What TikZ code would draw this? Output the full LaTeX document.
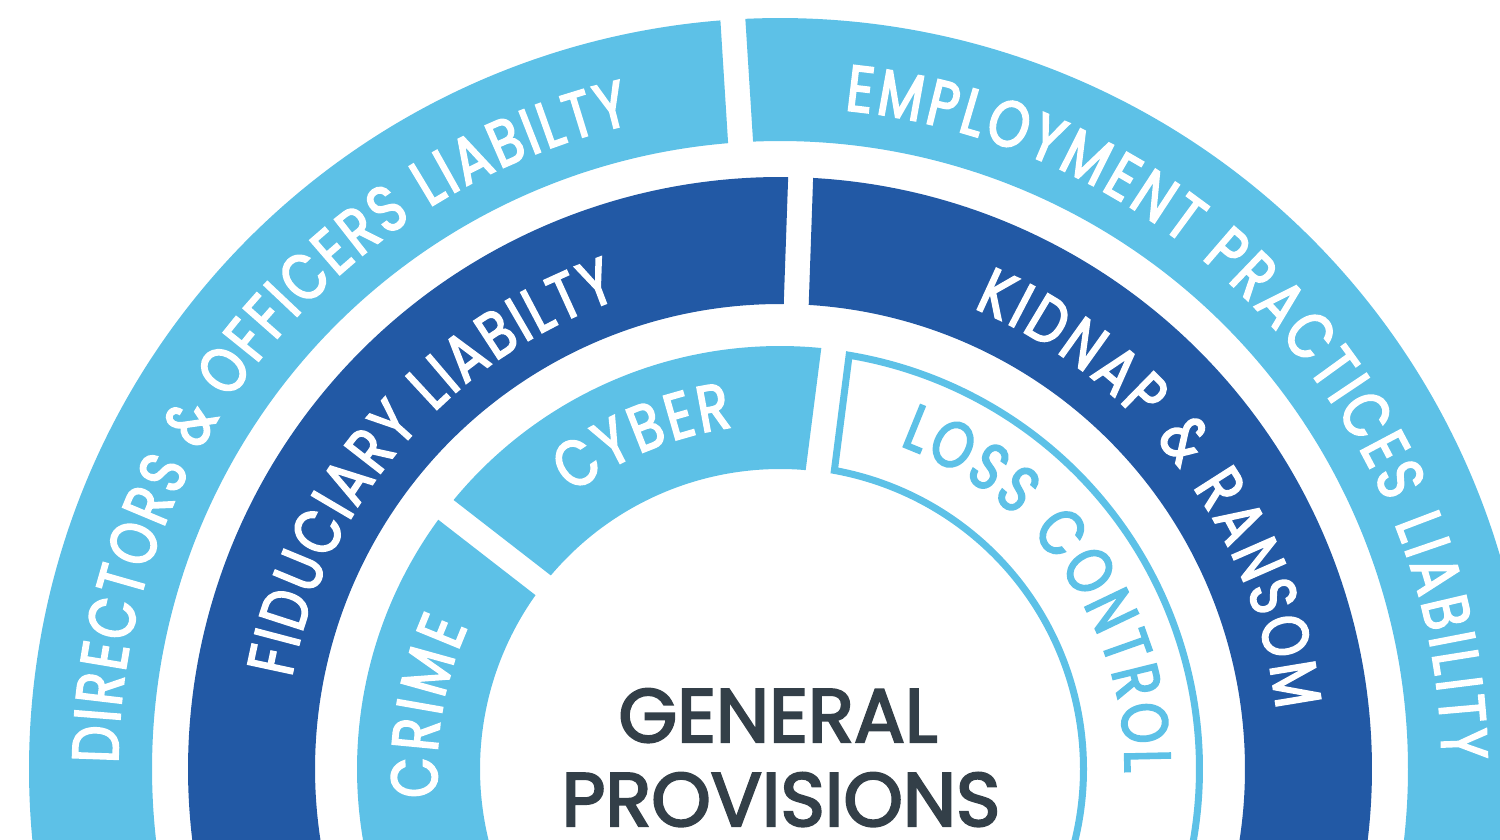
\documentclass[tikz,border=0pt]{standalone}
\usepackage{fontspec}
\newfontfamily\ringfam[FakeStretch=0.8, FakeBold=2.8]{Poppins}
\newfontfamily\titlefam[FakeBold=3]{Poppins}
\definecolor{skyband}{HTML}{5DC1E7}
\definecolor{navyband}{HTML}{2259A5}
\definecolor{slatetext}{HTML}{333F48}
\newcommand\ringlabel{\ringfam\fontsize{18.5pt}{20pt}\selectfont}

\tikzset{
  ringchar/.style={anchor=base, inner sep=0pt, outer sep=0pt, font=\ringlabel},
  titletext/.style={anchor=base, inner sep=0pt, text=slatetext,
    font=\titlefam\fontsize{21.5pt}{24pt}\selectfont},
}

% ring sector between radii #2 and #3, from angle #4 down to angle #5,
% with straight edges kept #6 away from the gap centre lines
\newcommand\ringseg[6]{%
  \pgfmathsetmacro\sOa{#4-asin(#6/#3)}%
  \pgfmathsetmacro\sIa{#4-asin(#6/#2)}%
  \pgfmathsetmacro\eOa{#5+asin(#6/#3)}%
  \pgfmathsetmacro\eIa{#5+asin(#6/#2)}%
  \path[#1] (\sOa:#3) arc[start angle=\sOa, end angle=\eOa, radius=#3]
    -- (\eIa:#2) arc[start angle=\eIa, end angle=\sIa, radius=#2] -- cycle;
}

% one letter of a curved label: name, colour, angle, radius, letter
\newcommand\placechar[5]{\node[ringchar, text=#2, rotate=#3-90] (#1) at (#3:#4) {#5};}

% curved label running clockwise from one angle to another, letters
% spread evenly over the arc: name, colour, baseline radius, start, end, text
\ExplSyntaxOn
\box_new:N \l__ring_box
\fp_new:N \l__ring_cur_fp
\fp_new:N \l__ring_rad_fp
\fp_new:N \l__ring_step_fp
\fp_new:N \l__ring_extra_fp
\dim_new:N \l__ring_tot_dim
\int_new:N \l__ring_idx_int
\int_new:N \l__ring_n_int
\cs_new_protected:Npn \__ring_measure:n #1
 {
  \hbox_set:Nn \l__ring_box
   {
    \pgfinterruptpicture
    \normalfont \ringlabel
    \str_if_eq:nnTF {#1} {~} { \skip_horizontal:n { \fontdimen2 \font } } {#1}
    \endpgfinterruptpicture
   }
 }
\NewDocumentCommand \arcword { m m m m m m }
 {
  \fp_set:Nn \l__ring_rad_fp { (#3) * 0.284528 }
  \dim_zero:N \l__ring_tot_dim
  \int_zero:N \l__ring_n_int
  \str_map_inline:nn {#6}
   {
    \__ring_measure:n {##1}
    \dim_add:Nn \l__ring_tot_dim { \box_wd:N \l__ring_box }
    \int_incr:N \l__ring_n_int
   }
  \fp_set:Nn \l__ring_extra_fp
   {
    ( (#4) - (#5) - \dim_to_fp:n { \l__ring_tot_dim } / \l__ring_rad_fp * 180 / pi )
    / ( \l__ring_n_int - 1 )
   }
  \fp_set:Nn \l__ring_cur_fp { #4 }
  \int_zero:N \l__ring_idx_int
  \str_map_inline:nn {#6}
   {
    \__ring_measure:n {##1}
    \fp_set:Nn \l__ring_step_fp
     { \dim_to_fp:n { \box_wd:N \l__ring_box } / \l__ring_rad_fp * 180 / pi }
    \int_incr:N \l__ring_idx_int
    \str_if_eq:nnF {##1} {~}
     {
      \use:x
       {
        \exp_not:N \placechar
         { #1 - \int_use:N \l__ring_idx_int }
         { #2 }
         { \fp_eval:n { \l__ring_cur_fp - \l__ring_step_fp / 2 } }
         { #3 }
         { \exp_not:n {##1} }
       }
     }
    \fp_sub:Nn \l__ring_cur_fp { \l__ring_step_fp + \l__ring_extra_fp }
   }
 }
\ExplSyntaxOff

\begin{document}
\begin{tikzpicture}[x=0.01cm, y=0.01cm]
\useasboundingbox (0,0) rectangle (1500,839);
\clip (0,0) rectangle (1500,839);

\begin{scope}[shift={(780,70)}]
  % outer ring
  \ringseg{fill=skyband}{628}{751}{200}{93.6}{12.5}
  \ringseg{fill=skyband}{628}{751}{93.6}{-20}{12.5}
  % middle ring
  \ringseg{fill=navyband}{465}{592}{200}{88}{12.5}
  \ringseg{fill=navyband}{465}{592}{88}{-20}{12.5}
  % inner ring
  \ringseg{fill=skyband}{300}{423}{200}{142.2}{12.5}
  \ringseg{fill=skyband}{300}{423}{142.2}{82.7}{12.5}
  \ringseg{fill=white, draw=skyband, line width=0.07cm}{303.5}{419.5}{82.7}{-20}{16}

  % labels
  \arcword{dol}{white}{662}{179.5}{103}{DIRECTORS & OFFICERS LIABILTY}
  \arcword{epl}{white}{662}{84.4}{0.8}{EMPLOYMENT PRACTICES LIABILITY}
  \arcword{fid}{white}{497}{169.4}{109}{FIDUCIARY LIABILTY}
  \arcword{kr}{white}{500}{67.2}{6.8}{KIDNAP & RANSOM}
  \arcword{crime}{white}{343}{184.7}{155.5}{CRIME}
  \arcword{cyber}{white}{345}{127}{97.9}{CYBER}
  \arcword{loss}{skyband}{345}{69.7}{-0.6}{LOSS CONTROL}
\end{scope}

\node[titletext] (gen) at (778,97) {GENERAL};
\node[titletext] (prov) at (781,13) {PROVISIONS};
\end{tikzpicture}
\end{document}
